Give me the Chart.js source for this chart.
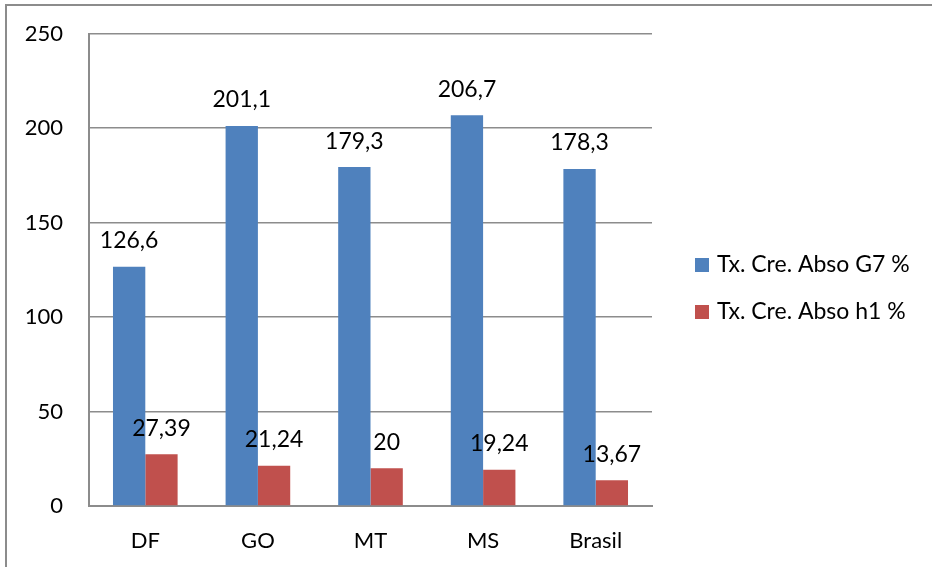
<!DOCTYPE html>
<html>
<head>
<meta charset="utf-8">
<script src="https://cdn.jsdelivr.net/npm/chart.js@4"></script>
<style>
  html, body { margin: 0; padding: 0; background: #fff; }
  #wrap { width: 932px; height: 567px; }
</style>
</head>
<body>
<div id="wrap"><canvas id="growth-chart" width="932" height="567"></canvas></div>
<script>
// Absolute growth rates by region
const regions = ['DF', 'GO', 'MT', 'MS', 'Brasil'];
const g7Values = [126.6, 201.1, 179.3, 206.7, 178.3];
const h1Values = [27.39, 21.24, 20, 19.24, 13.67];
const seriesNames = ['Tx. Cre. Abso G7 %', 'Tx. Cre. Abso h1 %'];
const yTicks = [0, 50, 100, 150, 200, 250];

const FONT = 'Lato, "Open Sans", sans-serif';
const gridGray = '#8c8c8c';

// value labels above each bar, decimal comma
const barLabels = {
    id: 'barLabels',
    afterDatasetsDraw(chart) {
        const ctx = chart.ctx;
        ctx.save();
        ctx.font = '23px ' + FONT;
        ctx.fillStyle = '#000';
        ctx.textAlign = 'center';
        ctx.textBaseline = 'middle';
        chart.data.datasets.forEach((ds, i) => {
            chart.getDatasetMeta(i).data.forEach((bar, j) => {
                const txt = ds.data[j].toLocaleString('pt-BR');
                ctx.fillText(txt, bar.x, bar.y - 26);
            });
        });
        ctx.restore();
    }
};

// legend at the right and the frame line on the left/top
const sideLegend = {
    id: 'sideLegend',
    afterDraw(chart) {
        const ctx = chart.ctx;
        ctx.save();
        ctx.strokeStyle = gridGray;
        ctx.lineWidth = 2;
        ctx.beginPath();
        ctx.moveTo(6, 567);
        ctx.lineTo(6, 5);
        ctx.lineTo(932, 5);
        ctx.stroke();

        ctx.font = '23px ' + FONT;
        ctx.textBaseline = 'middle';
        chart.data.datasets.forEach((ds, i) => {
            const cy = 265 + i * 47;
            ctx.fillStyle = ds.backgroundColor;
            ctx.fillRect(695, cy - 7, 14, 14);
            ctx.fillStyle = '#000';
            ctx.fillText(ds.label, 717, cy);
        });
        ctx.restore();
    }
};

new Chart(document.getElementById('growth-chart'), {
    type: 'bar',
    data: {
        labels: regions,
        datasets: [{
            label: seriesNames[0],
            data: g7Values,
            backgroundColor: '#4F81BD',
            categoryPercentage: 0.574,
            barPercentage: 1
        }, {
            label: seriesNames[1],
            data: h1Values,
            backgroundColor: '#C0504D',
            categoryPercentage: 0.574,
            barPercentage: 1
        }]
    },
    options: {
        responsive: false,
        animation: false,
        layout: { padding: { top: 33.5, right: 280, left: 0, bottom: 0 } },
        plugins: {
            legend: { display: false },
            tooltip: { enabled: false }
        },
        scales: {
            x: {
                grid: { display: false, drawTicks: false },
                border: { color: gridGray, width: 2 },
                ticks: { color: '#000', font: { family: FONT, size: 22 }, padding: 22 },
                afterFit: s => { s.height = 61; }
            },
            y: {
                min: 0,
                max: 250,
                afterBuildTicks: s => { s.ticks = yTicks.map(v => ({ value: v })); },
                grid: { color: gridGray, lineWidth: 1.5, drawTicks: false },
                border: { color: gridGray, width: 2 },
                ticks: { color: '#000', font: { family: FONT, size: 22 }, padding: 26 },
                afterFit: s => { s.width = 89; s.paddingTop = 0; s.paddingBottom = 0; }
            }
        }
    },
    plugins: [barLabels, sideLegend]
});
</script>
</body>
</html>
